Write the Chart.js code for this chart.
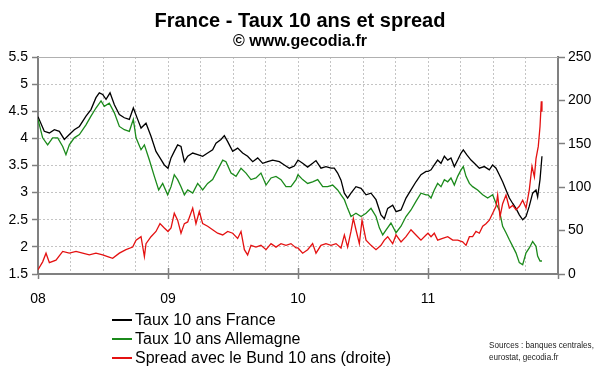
<!DOCTYPE html>
<html>
<head>
<meta charset="utf-8">
<script src="https://cdn.jsdelivr.net/npm/chart.js@4/dist/chart.umd.min.js"></script>
<style>
    body { margin: 0; background: #fff; }
    #wrap { position: relative; width: 600px; height: 372px; font-family: "Liberation Sans", Arial, sans-serif; color: #000; }
    #wrap canvas { position: absolute; left: 0; top: 0; }
    .txt { position: absolute; white-space: nowrap; pointer-events: none; }
    .title { left: 0; width: 600px; text-align: center; font-weight: bold; }
    .leg { left: 112px; height: 18px; line-height: 18px; font-size: 16px; display: flex; align-items: center; }
    .leg i { display: inline-block; width: 20px; height: 1.5px; margin-right: 3px; }
    .src { left: 489px; font-size: 9px; line-height: 12px; color: #222; transform: scaleX(0.9); transform-origin: left top; }
</style>
</head>
<body>
<div id="wrap">
    <canvas id="chart" width="600" height="372"></canvas>
    <div class="txt title" style="top:10px;font-size:20px;line-height:20px;">France - Taux 10 ans et spread</div>
    <div class="txt title" style="top:33px;font-size:16px;line-height:16px;">© www.gecodia.fr</div>
    <div class="txt leg" style="top:311px;"><i style="background:#000"></i>Taux 10 ans France</div>
    <div class="txt leg" style="top:330px;"><i style="background:#1b8a1b"></i>Taux 10 ans Allemagne</div>
    <div class="txt leg" style="top:349px;"><i style="background:#e41111"></i>Spread avec le Bund 10 ans (droite)</div>
    <div class="txt src" style="top:339px;">Sources : banques centrales,<br>eurostat, gecodia.fr</div>
</div>
<script>
// x = months since January 2008
const yearLabels = ['08', '09', '10', '11'];

const frMonths = [0, 0.58, 1.05, 1.51, 1.97, 2.43, 2.89, 3.35, 3.82, 4.43, 4.89, 5.35, 5.66, 5.97, 6.28, 6.65, 7.05, 7.51, 7.97, 8.43, 8.8, 9.2, 9.51, 9.97, 10.43, 10.89, 11.26, 11.66,
    12, 12.28, 12.58, 12.89, 13.2, 13.51, 13.82, 14.28, 14.74, 15.2, 15.66, 16.12, 16.43, 16.89, 17.2, 17.51, 17.97, 18.43, 18.89, 19.35, 19.82, 20.28, 20.74, 21.2, 21.66, 22.28, 22.74, 23.2, 23.66,
    24, 24.43, 24.89, 25.35, 25.66, 26.12, 26.58, 27.05, 27.35, 27.66, 27.97, 28.28, 28.58, 28.89, 29.35, 29.82, 30.28, 30.74, 31.2, 31.66, 31.97, 32.28, 32.74, 33.05, 33.51, 33.97, 34.43, 34.89, 35.35, 35.82,
    36, 36.28, 36.58, 36.89, 37.2, 37.51, 37.82, 38.12, 38.43, 38.74, 39.05, 39.26, 39.57, 39.97, 40.28, 40.74, 41.2, 41.66, 41.97, 42.28, 42.58, 42.89, 43.2, 43.51, 43.82, 44.12, 44.43, 44.74, 45.05, 45.35, 45.66, 45.97, 46.12, 46.34, 46.52];
const frRates = [4.40, 4.13, 4.10, 4.16, 4.13, 3.98, 4.07, 4.16, 4.22, 4.41, 4.53, 4.75, 4.84, 4.81, 4.72, 4.84, 4.62, 4.44, 4.38, 4.35, 4.56, 4.35, 4.19, 4.28, 4.04, 3.76, 3.64, 3.51,
    3.45, 3.64, 3.76, 3.88, 3.85, 3.57, 3.67, 3.73, 3.70, 3.67, 3.73, 3.79, 3.91, 3.98, 4.05, 3.94, 3.76, 3.82, 3.73, 3.67, 3.57, 3.64, 3.54, 3.57, 3.60, 3.57, 3.51, 3.45, 3.49,
    3.60, 3.54, 3.47, 3.54, 3.59, 3.45, 3.48, 3.45, 3.45, 3.36, 3.23, 2.99, 2.90, 2.99, 3.11, 3.08, 2.96, 2.99, 2.87, 2.59, 2.52, 2.71, 2.77, 2.65, 2.68, 2.90, 3.05, 3.20, 3.33, 3.39,
    3.39, 3.42, 3.51, 3.60, 3.54, 3.67, 3.60, 3.64, 3.48, 3.60, 3.73, 3.79, 3.70, 3.60, 3.54, 3.45, 3.48, 3.42, 3.51, 3.45, 3.33, 3.20, 3.05, 2.90, 2.80, 2.71, 2.59, 2.50, 2.56, 2.75, 2.99, 3.05, 2.92, 3.24, 3.67];

const deMonths = [0, 0.43, 0.89, 1.35, 1.82, 2.28, 2.58, 2.89, 3.35, 3.82, 4.43, 4.89, 5.35, 5.82, 6.12, 6.58, 7.05, 7.51, 7.97, 8.43, 8.8, 9.05, 9.51, 9.82, 10.28, 10.74, 11.14, 11.51, 11.97,
    12.28, 12.58, 12.89, 13.2, 13.51, 13.82, 14.28, 14.74, 15.2, 15.66, 16.12, 16.58, 17.05, 17.35, 17.82, 18.28, 18.74, 19.2, 19.66, 20.12, 20.58, 21.05, 21.51, 21.97, 22.43, 22.89, 23.35, 23.82,
    24, 24.43, 24.89, 25.35, 25.82, 26.28, 26.74, 27.2, 27.66, 27.97, 28.28, 28.58, 28.89, 29.35, 29.82, 30.28, 30.74, 31.2, 31.51, 31.82, 32.12, 32.58, 33.05, 33.51, 33.97, 34.43, 34.89, 35.35, 35.82,
    36, 36.28, 36.58, 36.89, 37.2, 37.51, 37.82, 38.12, 38.43, 38.74, 39.05, 39.26, 39.51, 39.82, 40.12, 40.58, 41.05, 41.51, 41.97, 42.28, 42.58, 42.89, 43.2, 43.51, 43.82, 44.12, 44.43, 44.74, 45.05, 45.35, 45.66, 45.97, 46.12, 46.34, 46.52];
const deRates = [4.35, 4.01, 3.88, 4.01, 4.01, 3.85, 3.70, 3.88, 4.01, 4.07, 4.25, 4.41, 4.56, 4.69, 4.59, 4.65, 4.47, 4.22, 4.16, 4.13, 4.35, 4.01, 3.79, 3.88, 3.60, 3.30, 3.05, 3.17, 2.96,
    3.11, 3.33, 3.24, 3.11, 2.96, 3.05, 2.99, 3.17, 3.05, 3.17, 3.24, 3.42, 3.60, 3.57, 3.36, 3.30, 3.45, 3.36, 3.24, 3.27, 3.36, 3.14, 3.27, 3.30, 3.24, 3.11, 3.11, 3.24,
    3.33, 3.24, 3.17, 3.20, 3.24, 3.11, 3.11, 3.14, 3.05, 2.96, 2.87, 2.71, 2.56, 2.62, 2.56, 2.62, 2.71, 2.56, 2.35, 2.22, 2.31, 2.44, 2.26, 2.38, 2.56, 2.68, 2.84, 2.99, 2.96,
    2.96, 2.90, 3.05, 3.17, 3.11, 3.24, 3.20, 3.27, 3.14, 3.30, 3.42, 3.48, 3.30, 3.17, 3.11, 3.05, 2.96, 2.90, 2.96, 2.80, 2.68, 2.38, 2.26, 2.13, 2.01, 1.89, 1.71, 1.67, 1.89, 1.98, 2.10, 2.01, 1.83, 1.74, 1.74];

const spMonths = [0, 0.43, 0.74, 1.05, 1.66, 2.28, 2.89, 3.51, 4.12, 4.74, 5.35, 5.97, 6.43, 6.89, 7.51, 8.12, 8.74, 9.05, 9.51, 9.82, 9.97, 10.43, 10.89, 11.26, 11.66,
    12, 12.28, 12.58, 12.89, 13.2, 13.51, 13.82, 14.28, 14.58, 14.89, 15.2, 15.66, 16.12, 16.58, 17.05, 17.51, 17.97, 18.43, 18.74, 19.05, 19.35, 19.66, 20.12, 20.58, 21.05, 21.51, 21.97, 22.43, 22.89, 23.35, 23.82,
    24, 24.43, 24.89, 25.35, 25.66, 26.12, 26.58, 27.05, 27.51, 27.97, 28.28, 28.58, 28.89, 29.11, 29.35, 29.66, 29.91, 30.28, 30.74, 31.2, 31.66, 31.97, 32.28, 32.74, 33.05, 33.51, 33.97, 34.43, 34.89, 35.35, 35.82,
    36, 36.28, 36.58, 36.89, 37.35, 37.82, 38.28, 38.74, 39.2, 39.51, 39.82, 40.12, 40.43, 40.74, 41.05, 41.35, 41.66, 41.97, 42.28, 42.43, 42.65, 42.89, 43.2, 43.51, 43.82, 44.12, 44.43, 44.74, 45.05, 45.35, 45.6, 45.82, 45.97, 46.18, 46.34, 46.46, 46.52];
const spreadBp = [5, 14, 24, 13, 16, 26, 24, 26, 24, 22, 24, 22, 20, 18, 24, 28, 31, 39, 43, 20, 35, 43, 49, 58, 53,
    49, 53, 70, 62, 47, 58, 60, 76, 58, 72, 58, 55, 51, 47, 45, 49, 47, 41, 49, 28, 22, 33, 31, 33, 28, 35, 31, 35, 33, 35, 30,
    30, 24, 28, 35, 24, 33, 35, 33, 35, 30, 45, 31, 49, 64, 51, 35, 62, 39, 33, 28, 33, 39, 43, 35, 45, 37, 43, 51, 45, 39, 45,
    47, 43, 47, 39, 41, 43, 39, 39, 37, 33, 43, 43, 49, 47, 55, 58, 62, 70, 78, 91, 66, 81, 91, 76, 79, 74, 78, 85, 76, 97, 124, 112, 133, 147, 170, 199, 187];

const leftTicks = [1.5, 5.5];
const rightTicks = [0, 250];

const toPoints = (xs, ys) => xs.map((x, i) => ({ x: x, y: ys[i] }));

const AXIS = '#808080';
const GRID = '#c4c4c4';
const FONT = { family: '"Liberation Sans", Arial, sans-serif', size: 14 };

// Top line and year ticks crossing the bottom axis
const axisExtras = {
    id: 'axisExtras',
    afterDraw(chart) {
        const { ctx, chartArea: a, scales } = chart;
        ctx.save();
        ctx.strokeStyle = '#b0b0b0';
        ctx.lineWidth = 1;
        ctx.beginPath();
        ctx.moveTo(a.left, a.top + 0.5);
        ctx.lineTo(a.right, a.top + 0.5);
        ctx.stroke();
        ctx.strokeStyle = AXIS;
        ctx.lineWidth = 1.5;
        for (let i = 1; i < yearLabels.length; i++) {
            const px = Math.round(scales.x.getPixelForValue(i * 12)) + 0.5;
            ctx.beginPath();
            ctx.moveTo(px, a.bottom - 6);
            ctx.lineTo(px, a.bottom);
            ctx.stroke();
        }
        ctx.restore();
    }
};

new Chart(document.getElementById('chart'), {
    type: 'line',
    data: {
        datasets: [
            { label: 'Taux 10 ans France', data: toPoints(frMonths, frRates), yAxisID: 'y', borderColor: '#000', order: 3 },
            { label: 'Taux 10 ans Allemagne', data: toPoints(deMonths, deRates), yAxisID: 'y', borderColor: '#1b8a1b', order: 2 },
            { label: 'Spread avec le Bund 10 ans (droite)', data: toPoints(spMonths, spreadBp), yAxisID: 'y1', borderColor: '#e41111', order: 1 }
        ]
    },
    options: {
        responsive: false,
        devicePixelRatio: 1,
        animation: false,
        layout: { padding: { top: 57, left: 0, right: 0, bottom: 0 } },
        elements: {
            line: { borderWidth: 1.3, tension: 0 },
            point: { radius: 0 }
        },
        plugins: { legend: { display: false }, tooltip: { enabled: false } },
        scales: {
            x: {
                type: 'linear',
                min: 0,
                max: yearLabels.length * 12,
                afterFit: s => { s.height = 98; },
                afterBuildTicks: s => {
                    s.ticks = [];
                    for (let v = 0; v <= yearLabels.length * 12; v += 3) s.ticks.push({ value: v });
                },
                ticks: {
                    autoSkip: false,
                    maxRotation: 0,
                    padding: 12,
                    color: '#000',
                    font: FONT,
                    callback: v => (v % 12 === 0 && v / 12 < yearLabels.length) ? yearLabels[v / 12] : ''
                },
                grid: {
                    color: c => (c.tick && (c.tick.value === 0 || c.tick.value === yearLabels.length * 12)) ? 'rgba(0,0,0,0)' : GRID,
                    tickColor: c => (c.tick && c.tick.value % 12 === 0) ? AXIS : 'rgba(0,0,0,0)',
                    tickLength: 5,
                    tickWidth: 1.5
                },
                border: { color: AXIS, width: 2, dash: [2, 2] }
            },
            y: {
                position: 'left',
                min: leftTicks[0],
                max: leftTicks[1],
                afterFit: s => { s.width = 38; },
                ticks: { stepSize: 0.5, padding: 4, color: '#000', font: FONT, callback: v => String(v) },
                grid: {
                    color: c => (c.tick && (c.tick.value === leftTicks[0] || c.tick.value === leftTicks[1])) ? 'rgba(0,0,0,0)' : GRID,
                    tickColor: AXIS,
                    tickLength: 6,
                    tickWidth: 1.5
                },
                border: { color: AXIS, width: 2, dash: [2, 2] }
            },
            y1: {
                position: 'right',
                min: rightTicks[0],
                max: rightTicks[1],
                afterFit: s => { s.width = 42; },
                ticks: { stepSize: 50, padding: 3, color: '#000', font: FONT },
                grid: { drawOnChartArea: false, tickColor: AXIS, tickLength: 7, tickWidth: 1.5 },
                border: { color: AXIS, width: 2 }
            }
        }
    },
    plugins: [axisExtras]
});
</script>
</body>
</html>
